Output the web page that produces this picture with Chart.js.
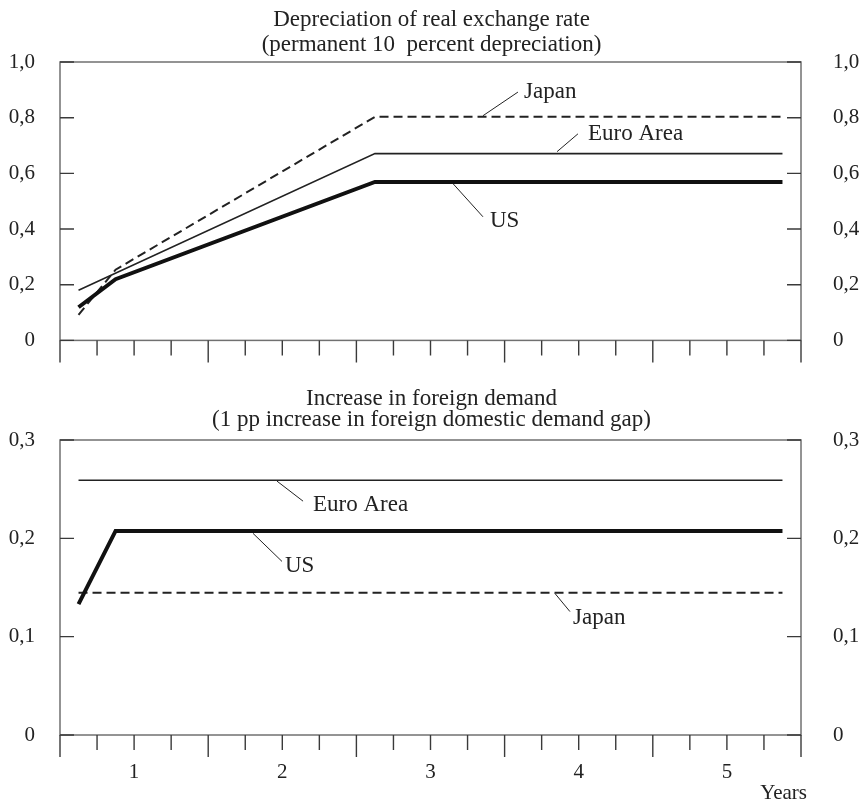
<!DOCTYPE html>
<html><head><meta charset="utf-8">
<script src="https://cdn.jsdelivr.net/npm/chart.js@4.4.1/dist/chart.umd.min.js"></script>
<style>
html,body{margin:0;padding:0;background:#fff;}
.box{position:absolute;left:0;width:863px;}
canvas{display:block;}
</style>
</head><body>
<div class="box" style="top:0;height:385px"><canvas id="c1" width="863" height="385"></canvas></div>
<div class="box" style="top:385px;height:415px"><canvas id="c2" width="863" height="415"></canvas></div>
<script>
// ---------- data ----------
const panel1Title = ['Depreciation of real exchange rate', '(permanent 10  percent depreciation)'];
const panel2Title = ['Increase in foreign demand', '(1 pp increase in foreign domestic demand gap)'];
const seriesNames = ['US', 'Euro Area', 'Japan'];

// panel 1: real exchange rate depreciation (kink points, years)
const rerUSx = [0.625, 0.875, 2.625, 5.375];
const rerUS = [0.119, 0.220, 0.569, 0.569];
const rerEuroX = [0.625, 2.625, 5.375];
const rerEuro = [0.180, 0.671, 0.671];
const rerJapanX = [0.625, 0.875, 2.625, 5.375];
const rerJapan = [0.092, 0.254, 0.803, 0.803];

// panel 2: foreign demand increase
const fdUSx = [0.625, 0.875, 5.375];
const fdUS = [0.133, 0.2075, 0.2075];
const fdEuroX = [0.625, 5.375];
const fdEuro = [0.259, 0.259];
const fdJapanX = [0.625, 5.375];
const fdJapan = [0.1446, 0.1446];

// ticks
const xRange = [0.5, 5.5];
const xStep = 0.25;
const xLabels = [1, 2, 3, 4, 5];
const xAxisTitle = 'Years';
const y1Ticks = [0, 0.2, 0.4, 0.6, 0.8, 1.0];
const y2Ticks = [0, 0.1, 0.2, 0.3];

// label annotations (data coords): leader from -> to, text at (baseline)
const notes1 = [
  {text:'Japan', from:[3.354,0.807], to:[3.590,0.892], at:[3.631,0.871]},
  {text:'Euro Area', from:[3.854,0.678], to:[3.995,0.742], at:[4.063,0.719]},
  {text:'US', from:[3.152,0.563], to:[3.354,0.444], at:[3.401,0.407]}
];
const notes2 = [
  {text:'Euro Area', from:[1.964,0.2582], to:[2.140,0.2378], at:[2.207,0.2276]},
  {text:'US', from:[1.802,0.2051], to:[1.998,0.1765], at:[2.018,0.1653]},
  {text:'Japan', from:[3.840,0.1439], to:[3.941,0.1255], at:[3.962,0.1133]}
];

// ---------- helpers ----------
const SERIF = "'Liberation Serif','Times New Roman',serif";
const pts = (xs, ys) => xs.map((x, i) => ({x, y: ys[i]}));
const fmt = v => v === 0 ? '0' : v.toFixed(1).replace('.', ',');

function framePlugin(){
  return {
    id: 'frame',
    beforeDatasetsDraw(chart){
      const {ctx, chartArea:{left, right, top, bottom}, scales} = chart;
      ctx.save();
      ctx.lineCap = 'butt';
      ctx.strokeStyle = '#707070';
      ctx.lineWidth = 1.5;
      ctx.strokeRect(left, top, right - left, bottom - top);
      ctx.strokeStyle = '#3a3a3a';
      ctx.lineWidth = 1.4;
      ctx.beginPath();
      scales.x.ticks.forEach(t => {
        const px = scales.x.getPixelForValue(t.value);
        const long = Math.abs((t.value % 1) - 0.5) < 1e-6;
        ctx.moveTo(px, bottom);
        ctx.lineTo(px, bottom + (long ? 22 : 15));
      });
      scales.y.ticks.forEach(t => {
        const py = scales.y.getPixelForValue(t.value);
        ctx.moveTo(left, py); ctx.lineTo(left + 14, py);
        ctx.moveTo(right, py); ctx.lineTo(right - 14, py);
      });
      ctx.stroke();
      ctx.restore();
    }
  };
}

function notesPlugin(notes, showXTitle){
  return {
    id: 'notes',
    afterDatasetsDraw(chart){
      const {ctx, scales:{x, y}, chartArea} = chart;
      ctx.save();
      ctx.strokeStyle = '#222';
      ctx.lineWidth = 1;
      ctx.fillStyle = '#222';
      ctx.font = '23px ' + SERIF;
      ctx.textAlign = 'left';
      ctx.textBaseline = 'alphabetic';
      notes.forEach(n => {
        ctx.beginPath();
        ctx.moveTo(x.getPixelForValue(n.from[0]), y.getPixelForValue(n.from[1]));
        ctx.lineTo(x.getPixelForValue(n.to[0]), y.getPixelForValue(n.to[1]));
        ctx.stroke();
        ctx.fillText(n.text, x.getPixelForValue(n.at[0]), y.getPixelForValue(n.at[1]));
      });
      if (showXTitle) {
        ctx.font = '21px ' + SERIF;
        ctx.textAlign = 'right';
        ctx.fillText(xAxisTitle, chartArea.right + 6, chart.height - 1);
      }
      ctx.restore();
    }
  };
}

function makeChart(id, cfg){
  const datasets = [
    {label: seriesNames[0], data: cfg.us, borderColor:'#111', borderWidth:4},
    {label: seriesNames[1], data: cfg.euro, borderColor:'#222', borderWidth:1.6},
    {label: seriesNames[2], data: cfg.jp, borderColor:'#222', borderWidth:2, borderDash:[9,5]}
  ].map(d => Object.assign(d, {pointRadius:0, fill:false, tension:0}));
  const yTicks = cfg.yTicks;
  const yCommon = {
    min: yTicks[0], max: yTicks[yTicks.length - 1],
    grid: {display:false, drawTicks:false},
    border: {display:false},
    afterBuildTicks: s => { s.ticks = yTicks.map(v => ({value: v})); },
  };
  return new Chart(document.getElementById(id), {
    type: 'line',
    data: {datasets},
    options: {
      responsive: false,
      animation: false,
      layout: {padding: 0},
      plugins: {
        legend: {display:false},
        tooltip: {enabled:false},
        title: {
          display: true, text: cfg.title, color:'#222',
          font: {family: SERIF, size: 23, weight:'normal', lineHeight: cfg.titleLH + 'px'},
          padding: cfg.titlePad
        }
      },
      scales: {
        x: {
          type: 'linear', min: xRange[0], max: xRange[1],
          grid: {display:false, drawTicks:false},
          border: {display:false},
          ticks: {
            stepSize: xStep, autoSkip: false, maxRotation: 0, minRotation: 0,
            padding: 25, color:'#222',
            font: {family: SERIF, size: 21},
            callback: v => (cfg.showX && xLabels.includes(v)) ? String(v) : ''
          },
          afterFit: s => { s.height = cfg.xHeight; }
        },
        y: Object.assign({}, yCommon, {
          position: 'left',
          ticks: {padding: 25, color:'#222', font:{family: SERIF, size: 21}, callback: fmt},
          afterFit: s => { s.width = 60; }
        }),
        yR: Object.assign({}, yCommon, {
          position: 'right',
          ticks: {padding: 32, color:'#222', font:{family: SERIF, size: 21}, callback: fmt},
          afterFit: s => { s.width = 62; }
        })
      }
    },
    plugins: [framePlugin(), notesPlugin(cfg.notes, cfg.showX)]
  });
}

makeChart('c1', {
  title: panel1Title, titleLH: 25, titlePad: {top: 7, bottom: 5},
  us: pts(rerUSx, rerUS), euro: pts(rerEuroX, rerEuro), jp: pts(rerJapanX, rerJapan),
  yTicks: y1Ticks, notes: notes1, showX: false, xHeight: 28
});
makeChart('c2', {
  title: panel2Title, titleLH: 21, titlePad: {top: 3.5, bottom: 9.5},
  us: pts(fdUSx, fdUS), euro: pts(fdEuroX, fdEuro), jp: pts(fdJapanX, fdJapan),
  yTicks: y2Ticks, notes: notes2, showX: true, xHeight: 65
});
</script>
</body></html>
